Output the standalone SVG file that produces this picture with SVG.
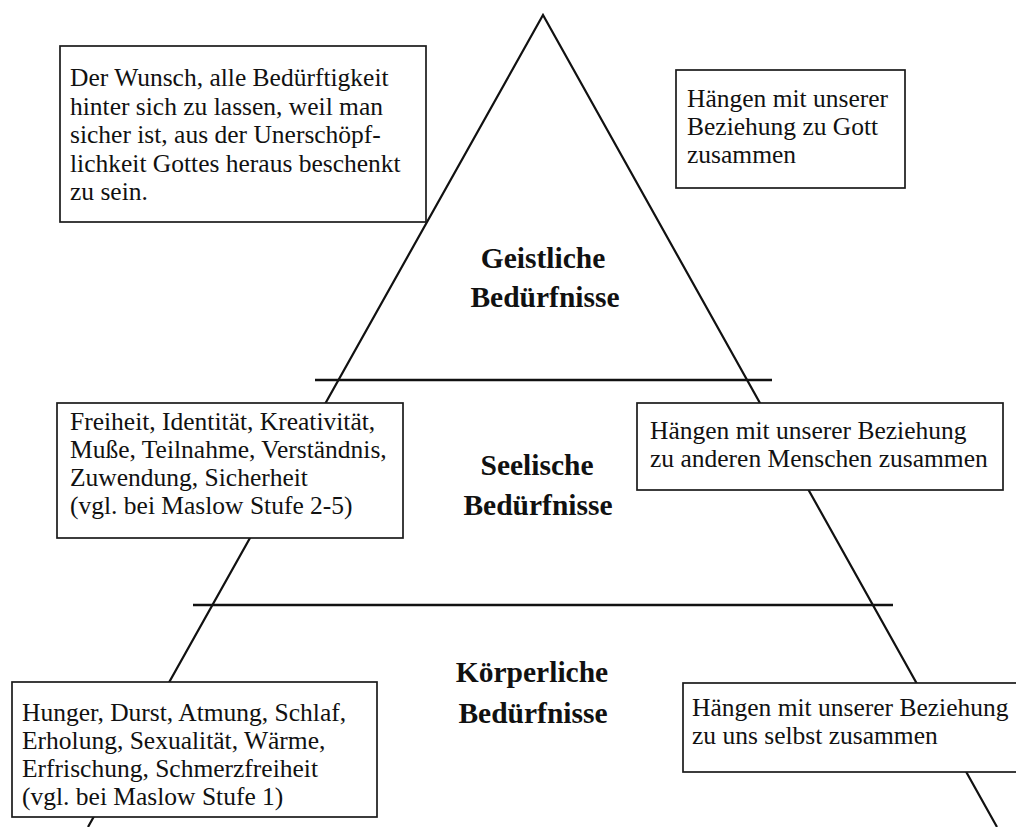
<svg xmlns="http://www.w3.org/2000/svg" width="1016" height="827" viewBox="0 0 1016 827">
  <style>
    .frame { fill: #ffffff; stroke: #1a1a1a; stroke-width: 1.7; }
    .edge { fill: none; stroke: #111111; stroke-width: 2.2; }
    .divider { fill: none; stroke: #111111; stroke-width: 2.6; }
    .note { font-family: "Liberation Serif", "DejaVu Serif", serif; font-size: 25.5px; fill: #111111; }
    .level { font-family: "Liberation Serif", "DejaVu Serif", serif; font-size: 29.5px; font-weight: bold; fill: #111111; text-anchor: middle; }
  </style>
  <rect width="1016" height="827" fill="#ffffff"/>

  <!-- pyramid outline and the two level dividers -->
  <g id="connectors">
    <path class="edge" d="M 88 827 L 543 15 L 997 827"/>
    <line class="divider" x1="315" y1="380" x2="772" y2="380"/>
    <line class="divider" x1="193" y1="605" x2="893" y2="605"/>
  </g>

  <!-- level labels inside the pyramid -->
  <g id="level-spiritual">
    <text class="level" x="543" y="268">Geistliche</text>
    <text class="level" x="545" y="307">Bedürfnisse</text>
  </g>
  <g id="level-soul">
    <text class="level" x="537" y="475">Seelische</text>
    <text class="level" x="538" y="515">Bedürfnisse</text>
  </g>
  <g id="level-body">
    <text class="level" x="532" y="682">Körperliche</text>
    <text class="level" x="533" y="723">Bedürfnisse</text>
  </g>

  <!-- note boxes -->
  <g id="note-spiritual-left" class="note">
    <rect class="frame" x="60" y="46" width="366" height="176"/>
    <text x="70" y="86">Der Wunsch, alle Bedürftigkeit</text>
    <text x="70" y="114.5">hinter sich zu lassen, weil man</text>
    <text x="70" y="143">sicher ist, aus der Unerschöpf-</text>
    <text x="70" y="171.5">lichkeit Gottes heraus beschenkt</text>
    <text x="70" y="200">zu sein.</text>
  </g>
  <g id="note-spiritual-right" class="note">
    <rect class="frame" x="676" y="70" width="229" height="118"/>
    <text x="687" y="107">Hängen mit unserer</text>
    <text x="687" y="135">Beziehung zu Gott</text>
    <text x="687" y="163">zusammen</text>
  </g>
  <g id="note-soul-left" class="note">
    <rect class="frame" x="57" y="403" width="346" height="135"/>
    <text x="70" y="430">Freiheit, Identität, Kreativität,</text>
    <text x="70" y="458">Muße, Teilnahme, Verständnis,</text>
    <text x="70" y="486">Zuwendung, Sicherheit</text>
    <text x="70" y="514">(vgl. bei Maslow Stufe 2-5)</text>
  </g>
  <g id="note-soul-right" class="note">
    <rect class="frame" x="637" y="403" width="366" height="87"/>
    <text x="650" y="439">Hängen mit unserer Beziehung</text>
    <text x="650" y="467">zu anderen Menschen zusammen</text>
  </g>
  <g id="note-body-left" class="note">
    <rect class="frame" x="12" y="682" width="365" height="135"/>
    <text x="22" y="721">Hunger, Durst, Atmung, Schlaf,</text>
    <text x="22" y="749">Erholung, Sexualität, Wärme,</text>
    <text x="22" y="777">Erfrischung, Schmerzfreiheit</text>
    <text x="22" y="805">(vgl. bei Maslow Stufe 1)</text>
  </g>
  <g id="note-body-right" class="note">
    <rect class="frame" x="683" y="683" width="345" height="89"/>
    <text x="692" y="716">Hängen mit unserer Beziehung</text>
    <text x="692" y="744">zu uns selbst zusammen</text>
  </g>
</svg>
